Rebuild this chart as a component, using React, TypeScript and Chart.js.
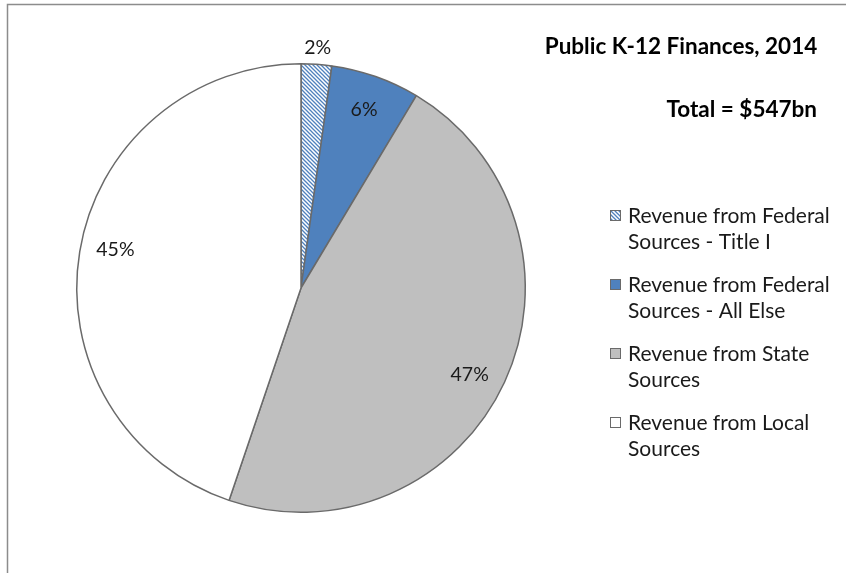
import React, { useEffect, useRef } from "react";
import { Chart, registerables } from "chart.js";

Chart.register(...registerables);

const categories = [
  ["Revenue from Federal", "Sources - Title I"],
  ["Revenue from Federal", "Sources - All Else"],
  ["Revenue from State", "Sources"],
  ["Revenue from Local", "Sources"],
];
const values = [2.2, 6.4, 46.6, 44.8];
const percentLabels = ["2%", "6%", "47%", "45%"];
const titleLines = ["Public K-12 Finances, 2014", "Total = $547bn"];

const FONT = "Lato, 'Open Sans', sans-serif";
const BLUE = "#4F81BD";
const GRAY = "#BFBFBF";
const EDGE = "#6a6a6a";

function makeHatch(): CanvasPattern | string {
  const c = document.createElement("canvas");
  const s = 4;
  c.width = s;
  c.height = s;
  const g = c.getContext("2d");
  if (!g) return BLUE;
  g.fillStyle = "#ffffff";
  g.fillRect(0, 0, s, s);
  g.strokeStyle = BLUE;
  g.lineWidth = 1.3;
  g.beginPath();
  g.moveTo(-1, -1);
  g.lineTo(s + 1, s + 1);
  g.moveTo(-1, s - 1);
  g.lineTo(1, s + 1);
  g.moveTo(s - 1, -1);
  g.lineTo(s + 1, 1);
  g.stroke();
  const p = g.createPattern(c, "repeat");
  return p || BLUE;
}

export default function App() {
  const ref = useRef<HTMLCanvasElement | null>(null);

  useEffect(() => {
    document.body.style.margin = "0";
    const canvas = ref.current;
    if (!canvas) return;
    const hatch = makeHatch();
    const fills = [hatch, BLUE, GRAY, "#ffffff"];

    const framePlugin = {
      id: "frame",
      beforeDraw(chart: any) {
        const ctx = chart.ctx;
        ctx.save();
        ctx.fillStyle = "#ffffff";
        ctx.fillRect(0, 0, chart.width, chart.height);
        ctx.strokeStyle = "#8c8c8c";
        ctx.lineWidth = 1.5;
        ctx.strokeRect(7.5, 4.5, chart.width + 20, chart.height + 20);
        ctx.restore();
      },
    };

    const labelPlugin = {
      id: "sliceLabels",
      afterDatasetsDraw(chart: any) {
        const ctx = chart.ctx;
        const meta = chart.getDatasetMeta(0);
        ctx.save();
        ctx.font = `19.5px ${FONT}`;
        ctx.fillStyle = "#1a1a1a";
        ctx.textAlign = "center";
        ctx.textBaseline = "middle";
        meta.data.forEach((arc: any, i: number) => {
          const { x, y, startAngle, endAngle, outerRadius } = arc.getProps(
            ["x", "y", "startAngle", "endAngle", "outerRadius"],
            true
          );
          const mid = (startAngle + endAngle) / 2 + (i >= 2 ? 0.04 : 0);
          const frac = (endAngle - startAngle) / (Math.PI * 2);
          const r = frac < 0.03 ? outerRadius + 17 : outerRadius * 0.845;
          ctx.fillText(percentLabels[i], x + Math.cos(mid) * r, y + Math.sin(mid) * r);
        });
        ctx.restore();
      },
    };

    const sidePlugin = {
      id: "sidePanel",
      afterDraw(chart: any) {
        const ctx = chart.ctx;
        ctx.save();
        ctx.fillStyle = "#000000";
        ctx.font = `bold 22.5px ${FONT}`;
        ctx.textBaseline = "middle";
        ctx.textAlign = "center";
        ctx.fillText(titleLines[0], 681, 47);
        ctx.textAlign = "right";
        ctx.fillText(titleLines[1], 817, 110);

        ctx.font = `21px ${FONT}`;
        ctx.textAlign = "left";
        categories.forEach((lines, i) => {
          const y0 = 216 + i * 69;
          ctx.fillStyle = fills[i];
          ctx.fillRect(610, y0 - 6, 11, 11);
          ctx.strokeStyle = EDGE;
          ctx.lineWidth = 1;
          ctx.strokeRect(610.5, y0 - 5.5, 10, 10);
          ctx.fillStyle = "#1a1a1a";
          lines.forEach((t, j) => ctx.fillText(t, 628, y0 + j * 26));
        });
        ctx.restore();
      },
    };

    const chart = new Chart(canvas, {
      type: "pie",
      data: {
        labels: categories.map((l) => l.join(" ")),
        datasets: [
          {
            data: values,
            backgroundColor: fills as any,
            borderColor: EDGE,
            borderWidth: 1.5,
          },
        ],
      },
      options: {
        responsive: false,
        animation: false,
        layout: { padding: { left: 76, right: 320, top: 63, bottom: 60 } },
        plugins: {
          legend: { display: false },
          tooltip: { enabled: false },
          title: { display: false },
        },
      },
      plugins: [framePlugin, labelPlugin, sidePlugin],
    });
    return () => chart.destroy();
  }, []);

  return (
    <div style={{ width: 846, height: 573 }}>
      <canvas ref={ref} width={846} height={573} />
    </div>
  );
}
